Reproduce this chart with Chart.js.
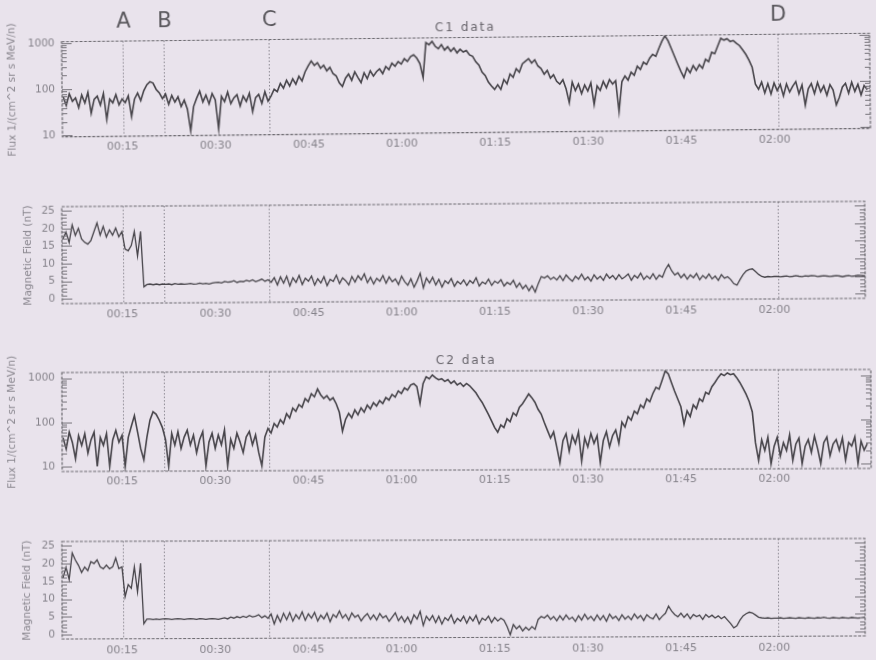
<!DOCTYPE html>
<html>
<head>
<meta charset="utf-8">
<script src="https://cdn.jsdelivr.net/npm/chart.js@4.4.1/dist/chart.umd.min.js"></script>
<style>
  html, body { margin: 0; padding: 0; background: #e9e3ec; overflow: hidden; }
  #wrap { position: relative; width: 876px; height: 660px; }
  canvas { position: absolute; left: 0; top: 0; }
</style>
</head>
<body>
<div id="wrap">
  <canvas id="p1" width="876" height="660"></canvas>
  <canvas id="p2" width="876" height="660"></canvas>
  <canvas id="p3" width="876" height="660"></canvas>
  <canvas id="p4" width="876" height="660"></canvas>
</div>
<script>
// samples every half minute, first one at 00:05:30
const sampleStart = 5.5;
const sampleStep = 0.5;

const timeTicks = [15, 30, 45, 60, 75, 90, 105, 120];
const timeLabels = ['00:15', '00:30', '00:45', '01:00', '01:15', '01:30', '01:45', '02:00'];

const eventNames = ['A', 'B', 'C', 'D'];
const eventTimes = [15.2, 21.8, 38.7, 120.6];

const fluxTicks = [10, 100, 1000];
const fluxMinor = [20, 30, 40, 50, 60, 70, 80, 90, 200, 300, 400, 500, 600, 700, 800, 900];
const fieldTicks = [0, 5, 10, 15, 20, 25];
const fieldMinor = [1, 2, 3, 4, 6, 7, 8, 9, 11, 12, 13, 14, 16, 17, 18, 19, 21, 22, 23, 24];

// C1 flux, 1/(cm^2 sr s MeV/n) - one row = 5 minutes
const c1Flux = [
  70, 45, 80, 55, 65, 40, 75, 50, 85, 30,
  60, 70, 45, 80, 22, 60, 50, 75, 45, 60,
  50, 70, 25, 60, 80, 55, 90, 120, 140, 130,
  95, 80, 60, 75, 45, 70, 50, 65, 40, 55,
  35, 12, 40, 60, 85, 50, 70, 45, 75, 55,
  13, 65, 50, 80, 45, 60, 70, 40, 65, 50,
  75, 30, 60, 70, 45, 80, 50, 65, 90, 80,
  120, 95, 140, 105, 150, 115, 170, 135, 210, 280,
  360, 290, 330, 250, 290, 220, 260, 190, 170, 120,
  100, 150, 185, 135, 205, 155, 120, 195, 145, 215,
  165, 205, 235, 185, 265, 225, 310, 265, 335, 295,
  385, 335, 425, 465, 395, 300, 150, 850, 760, 900,
  700, 620, 760, 580, 680, 540, 640, 500, 600, 520,
  560, 450, 420, 320, 270, 190, 160, 115, 95, 80,
  100, 80, 130, 105, 170, 145, 220, 185, 280, 320,
  360, 290, 340, 250, 220, 165, 200, 135, 160, 115,
  100, 125, 80, 40, 110, 72, 100, 62, 95, 70,
  105, 36, 90, 72, 112, 82, 122, 98, 115, 25,
  110, 145, 118, 175, 150, 235, 200, 285, 255, 345,
  420, 380, 560, 800, 1050, 820, 560, 380, 260, 180,
  130, 210, 165, 235, 185, 245, 205, 320, 285, 450,
  420, 620, 900, 820, 880, 760, 800, 700, 620, 500,
  400, 300, 210, 90, 70, 100, 58, 92, 55, 95,
  65, 88, 50, 90, 60, 80, 100, 55, 85, 31,
  70, 90, 55, 95, 60, 80, 50, 85, 65, 31,
  45, 75, 90, 55, 95, 60, 85, 50, 80, 65
];

// C1 magnetic field, nT
const c1Field = [
  17, 19, 16, 21, 18, 20, 17, 16, 15.5, 16.5,
  19, 21.5, 18, 20.5, 17.5, 19.5, 18, 20, 17.5, 19,
  14, 13.5, 15, 19, 12, 19, 3.2, 3.9, 4, 3.8,
  4, 3.8, 4, 3.9, 4, 3.8, 4.1, 3.9, 4, 3.9,
  4, 4.1, 3.9, 4, 4.2, 4, 4.1, 3.9, 4.2, 4.3,
  4.4, 4.2, 4.6, 4.4, 4.5, 4.8, 4.3, 4.6, 4.5, 4.9,
  4.6, 5, 4.5, 4.8, 5.2, 4.6, 5, 4.3, 5.6, 3.5,
  5.8, 4, 6, 3.2, 5.5, 4.2, 6.2, 3.6, 5.4, 4.5,
  6, 3.4, 5.2, 4, 5.8, 3.2, 5, 4.4, 6.2, 3.8,
  5.4, 4.6, 3.4, 5.8, 4.2, 6, 4.8, 6.5, 4, 5.5,
  3.6, 5.2, 4.4, 6, 3.8, 5.6, 4.2, 5, 3.4, 5.8,
  4.2, 3.2, 5, 2.6, 4.4, 6.6, 2.4, 5.2, 3.8, 5.4,
  3.2, 4.8, 2.6, 4.4, 3.6, 5, 2.8, 4.2, 3.4, 4.6,
  3, 4.4, 3.6, 5.2, 2.8, 4, 3.4, 4.8, 3, 4.2,
  3.6, 4.6, 2.8, 3.8, 3.2, 4.4, 2.4, 3.6, 2, 3,
  1.4, 2.8, 1, 3.4, 5.4, 5, 5.6, 4.6, 5.2, 4.4,
  5.6, 4.2, 5.8, 4.8, 4, 5.4, 4.6, 6, 4.4, 5.2,
  4, 5.8, 4.6, 5.4, 4.2, 6, 4.8, 5.6, 4.4, 5.8,
  4.6, 5.2, 6, 4.2, 5.6, 4.8, 6.2, 4.4, 5.4, 4.6,
  6, 4.4, 5.6, 5, 7.2, 8.6, 6.8, 5.6, 6.2, 4.8,
  5.8, 4.4, 5.6, 4.8, 6, 4.2, 5.4, 4.6, 5.8, 4.4,
  5.2, 4, 5.6, 4.6, 5, 4.2, 3, 2.6, 4.2, 5.6,
  6.6, 7, 7.2, 6.4, 5.6, 5, 4.8, 5, 4.9, 5,
  5, 4.9, 5, 5.1, 4.9, 5, 5.2, 5, 4.9, 5.1,
  5, 5.2, 5.1, 4.9, 5, 5.1, 5, 4.9, 5, 5.1,
  5, 4.8, 5, 5.1, 4.9, 5, 5.2, 5.1, 5, 4.9
];

// C2 flux
const c2Flux = [
  45, 25, 60, 35, 15, 50, 30, 55, 20, 40,
  60, 10, 45, 30, 55, 10, 40, 65, 35, 50,
  10, 45, 80, 140, 60, 25, 14, 45, 110, 170,
  150, 110, 75, 40, 10, 55, 30, 60, 25, 45,
  65, 30, 50, 20, 40, 60, 10, 35, 55, 25,
  50, 30, 65, 10, 40, 25, 55, 35, 20, 45,
  60, 30, 50, 20, 10, 45, 70, 55, 90, 75,
  110, 90, 150, 120, 200, 170, 240, 210, 330, 280,
  420, 360, 540, 400, 330, 380, 300, 340, 250, 160,
  60, 110, 150, 120, 180, 140, 200, 160, 230, 190,
  260, 220, 290, 250, 340, 300, 400, 350, 480, 420,
  560, 500, 650, 700, 600, 250, 700, 1000, 900, 1100,
  950, 850, 900, 780, 860, 700, 800, 650, 720, 600,
  700, 620, 520, 430, 330, 260, 190, 140, 100, 70,
  55, 80, 70, 110, 95, 150, 130, 200, 240, 310,
  400, 330, 260, 180, 140, 90, 60, 40, 55, 25,
  11, 35, 50, 20, 45, 30, 55, 12, 40, 25,
  50, 30, 45, 11, 35, 55, 25, 45, 60, 30,
  90, 70, 120, 100, 160, 140, 220, 190, 300, 260,
  400, 550, 500, 800, 1300, 1100, 700, 450, 300, 200,
  80, 160, 120, 220, 180, 300, 260, 420, 380, 560,
  700, 900, 1100, 1000, 1150, 1050, 1100, 900, 700, 520,
  380, 260, 150, 30, 12, 35, 20, 40, 10, 25,
  40, 15, 30, 20, 45, 12, 28, 38, 10, 25,
  35, 18, 42, 22, 10, 30, 40, 15, 28, 35,
  20, 38, 12, 30, 25, 40, 10, 32, 20, 28
];

// C2 magnetic field
const c2Field = [
  16, 19, 15.5, 23, 21, 19.5, 17.5, 19, 18, 20.5,
  20, 21, 19, 18.5, 19.5, 18.5, 19, 21.5, 18.5, 19,
  10.6, 14, 13, 19, 12, 20, 3, 4.3, 4.3, 4.2,
  4.3, 4.2, 4.3, 4.4, 4.3, 4.2, 4.3, 4.4, 4.3, 4.2,
  4.3, 4.4, 4.3, 4.2, 4.4, 4.3, 4.2, 4.3, 4.4, 4.3,
  4.2, 4.4, 4.6, 4.3, 4.8, 4.5, 4.9, 4.6, 5, 4.7,
  5.2, 4.8, 5, 5.4, 4.6, 5.1, 4.4, 5.6, 2.8, 5.2,
  3.4, 5.8, 4, 6, 3.6, 5.4, 4.2, 6.2, 3.8, 5.6,
  4.4, 6, 3.6, 5.2, 4.2, 5.8, 3.4, 5.4, 4.6, 6.4,
  4.4, 5.4, 3.8, 5.8, 4.6, 5.2, 3.6, 4.8, 5.6, 4,
  5.2, 3.8, 5.6, 4.4, 5, 3.4, 4.6, 5.8, 3.6, 4.8,
  3.2, 4.6, 2.8, 5.2, 4, 6.2, 2.2, 4.8, 3.6, 5,
  3, 4.8, 2.6, 4.4, 3.6, 5.2, 2.8, 4.2, 3.4, 4.8,
  2.8, 4.6, 3.4, 5, 2.6, 4.2, 3.6, 4.8, 3, 4.4,
  3.4, 4.2, 3.6, 1.8, -0.5, 2.4, 1.2, 2, 0.6, 1.6,
  0.8, 1.8, 1, 3.8, 4.6, 4.2, 5, 3.8, 4.6, 3.4,
  4.8, 3.6, 5, 3.8, 4.4, 3.2, 4.8, 3.6, 5.2, 3.8,
  4.6, 3.4, 5, 3.6, 4.8, 3.2, 5.2, 4, 4.6, 3.4,
  5, 3.8, 4.6, 3.6, 5.2, 4, 4.8, 3.4, 5, 4.2,
  3.8, 5.2, 3.6, 4.6, 5.4, 7.4, 6, 5, 4.4, 5.4,
  4.2, 5.2, 3.8, 5, 4.4, 4.8, 3.6, 5, 4.2, 4.8,
  4, 4.6, 3.8, 4.4, 3.4, 2.4, 1.2, 1.8, 3.4, 4.6,
  5.2, 5.6, 5.4, 4.8, 4.2, 4, 3.9, 4, 3.8, 3.9,
  3.9, 4, 3.8, 3.9, 4, 3.9, 3.8, 4, 3.9, 3.8,
  4, 3.9, 3.8, 4, 3.9, 4.1, 3.9, 3.8, 4, 3.9,
  3.8, 4, 3.9, 3.8, 4, 3.9, 3.8, 3.9, 4, 3.9
];

const FONT = '"DejaVu Sans", sans-serif';
const fluxTitle = 'Flux 1/(cm^2 sr s MeV/n)';
const fieldTitle = 'Magnetic Field (nT)';

const frameDecor = {
  id: 'frameDecor',
  beforeDatasetsDraw(chart) {
    const { ctx, chartArea: a, scales: { x } } = chart;
    ctx.save();
    ctx.strokeStyle = '#8a8790';
    ctx.lineWidth = 1;
    ctx.setLineDash([1.5, 2]);
    eventTimes.forEach(t => {
      const px = Math.round(x.getPixelForValue(t)) + 0.5;
      ctx.beginPath();
      ctx.moveTo(px, a.top);
      ctx.lineTo(px, a.bottom);
      ctx.stroke();
    });
    ctx.restore();
  },
  afterDraw(chart, args, o) {
    const { ctx, chartArea: a, scales: { x, y } } = chart;
    ctx.save();
    ctx.strokeStyle = '#77747b';
    ctx.lineWidth = 1;
    const mark = (v, len) => {
      const py = Math.round(y.getPixelForValue(v)) + 0.5;
      ctx.beginPath();
      ctx.moveTo(a.left, py); ctx.lineTo(a.left + len, py);
      ctx.moveTo(a.right, py); ctx.lineTo(a.right - len, py);
      ctx.stroke();
    };
    o.minor.forEach(v => mark(v, 5));
    o.major.forEach(v => mark(v, 10));

    ctx.setLineDash([3, 1.5]);
    ctx.strokeStyle = '#6c6a70';
    ctx.lineWidth = 1.2;
    ctx.strokeRect(a.left, a.top, a.right - a.left, a.bottom - a.top);
    ctx.setLineDash([]);

    ctx.textAlign = 'center';
    ctx.textBaseline = 'middle';
    if (o.letters) {
      ctx.fillStyle = '#59575c';
      ctx.font = '21px ' + FONT;
      eventTimes.forEach((t, i) => ctx.fillText(eventNames[i], x.getPixelForValue(t) + 1, a.top - 19));
    }
    if (o.header) {
      ctx.fillStyle = '#68656c';
      ctx.font = '12px ' + FONT;
      ctx.letterSpacing = '2px';
      ctx.fillText(o.header, (a.left + a.right) / 2, a.top - 10);
      ctx.letterSpacing = '0px';
    }
    ctx.restore();
  }
};

const panels = [
  { id: 'p1', values: c1Flux, log: true, min: 9.4, max: 1070, frame: [62, 870, 37.5, 132.7], rot: -0.6,
    title: fluxTitle, titlePad: 6, header: 'C1 data', letters: true },
  { id: 'p2', values: c1Field, log: false, min: -1.4, max: 26.2, frame: [62, 865, 204, 301], rot: -0.38,
    title: fieldTitle, titlePad: 22 },
  { id: 'p3', values: c2Flux, log: true, min: 7.7, max: 1340, frame: [62, 871, 371, 470], rot: -0.22,
    title: fluxTitle, titlePad: 6, header: 'C2 data' },
  { id: 'p4', values: c2Field, log: false, min: -1.2, max: 26.2, frame: [62, 865, 540, 637.5], rot: -0.22,
    title: fieldTitle, titlePad: 21 }
];

panels.forEach(p => {
  const [left, right, top, bottom] = p.frame;
  const el = document.getElementById(p.id);
  el.style.transformOrigin = ((left + right) / 2) + 'px ' + ((top + bottom) / 2) + 'px';
  el.style.transform = 'rotate(' + p.rot + 'deg)';

  const xmin = 15 - (122 - left) / 6.21;
  const xmax = 15 + (right - 122) / 6.21;
  const pts = p.values.map((v, i) => ({ x: sampleStart + i * sampleStep, y: v }));

  new Chart(el, {
    type: 'line',
    data: {
      datasets: [{
        data: pts,
        borderColor: 'rgba(56,54,60,0.92)',
        borderWidth: p.log ? 1.6 : 1.3,
        pointRadius: 0,
        tension: 0
      }]
    },
    options: {
      responsive: false,
      animation: false,
      devicePixelRatio: 1,
      layout: { padding: { left: 0, top: top, right: 876 - right, bottom: 660 - bottom - 26 } },
      plugins: {
        legend: { display: false },
        tooltip: { enabled: false },
        frameDecor: {
          minor: p.log ? fluxMinor : fieldMinor,
          major: p.log ? fluxTicks : fieldTicks,
          header: p.header,
          letters: p.letters
        }
      },
      scales: {
        x: {
          type: 'linear',
          min: xmin,
          max: xmax,
          afterBuildTicks: s => { s.ticks = timeTicks.map(v => ({ value: v })); },
          afterFit: s => { s.height = 26; },
          grid: { display: false, drawTicks: false },
          border: { display: false },
          ticks: {
            padding: p.log ? 4 : 5,
            maxRotation: 0,
            autoSkip: false,
            color: '#86838b',
            font: { family: FONT, size: 11 },
            callback: (v, i) => timeLabels[i]
          }
        },
        y: {
          type: p.log ? 'logarithmic' : 'linear',
          min: p.min,
          max: p.max,
          afterBuildTicks: s => { s.ticks = (p.log ? fluxTicks : fieldTicks).map(v => ({ value: v })); },
          afterFit: s => { s.width = 62; },
          grid: { display: false, drawTicks: false },
          border: { display: false },
          ticks: {
            padding: 7,
            color: '#86838b',
            font: { family: FONT, size: 10.5 },
            callback: v => String(v)
          },
          title: {
            display: true,
            text: p.title,
            color: '#8b8890',
            font: { family: FONT, size: 10.5 },
            padding: { top: p.titlePad, bottom: 0 }
          }
        }
      }
    },
    plugins: [frameDecor]
  });
});
</script>
</body>
</html>
